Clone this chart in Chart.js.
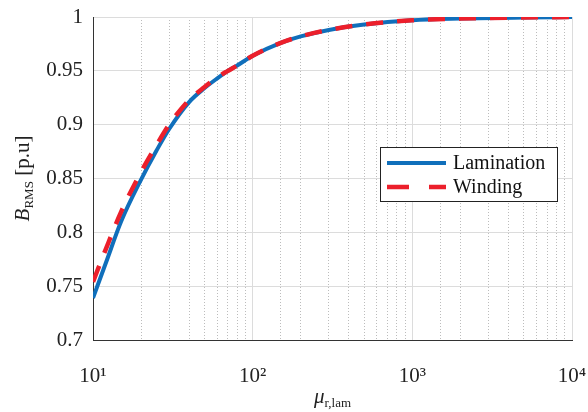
<!DOCTYPE html>
<html>
<head>
<meta charset="utf-8">
<script src="https://cdn.jsdelivr.net/npm/chart.js@4"></script>
<style>
  html, body { margin: 0; padding: 0; background: #fff; }
</style>
</head>
<body>
<canvas id="chart" width="588" height="412"></canvas>
<script>
// relative permeability of lamination (x) vs RMS flux density (p.u.)
const mu = [10, 12, 15, 20, 25, 30, 40, 50, 60, 70, 80, 100, 150, 200, 300, 500, 1000, 2000, 5000, 10000];
const lamination = [0.739, 0.771, 0.810, 0.849, 0.876, 0.896, 0.921, 0.934, 0.943, 0.950, 0.955, 0.964, 0.976, 0.982, 0.988, 0.993, 0.997, 0.9985, 0.9995, 1.0];
const winding = [0.754, 0.784, 0.819, 0.856, 0.881, 0.900, 0.923, 0.935, 0.944, 0.950, 0.955, 0.964, 0.976, 0.982, 0.988, 0.993, 0.997, 0.9985, 0.9995, 1.0];
const xTickLabels = { 10: "10¹", 100: "10²", 1000: "10³", 10000: "10⁴" };
const yTickValues = [0.7, 0.75, 0.8, 0.85, 0.9, 0.95, 1];

const FONT = "'Liberation Serif', 'Times New Roman', serif";

function isDecade(v) {
  const l = Math.log10(v);
  return Math.abs(l - Math.round(l)) < 1e-9;
}

// axis titles with italic symbols and subscripts
const axisTitles = {
  id: "axisTitles",
  afterDraw(chart) {
    const { ctx, chartArea } = chart;

    function drawRich(parts) {
      let total = 0;
      parts.forEach((p) => {
        ctx.font = p.font;
        p.w = ctx.measureText(p.t).width;
        total += p.w;
      });
      let x = -total / 2;
      parts.forEach((p) => {
        ctx.font = p.font;
        ctx.fillText(p.t, x, p.dy || 0);
        x += p.w;
      });
    }

    ctx.save();
    ctx.fillStyle = "#222";
    ctx.textBaseline = "alphabetic";
    ctx.textAlign = "left";

    ctx.save();
    ctx.translate(29, (chartArea.top + chartArea.bottom) / 2);
    ctx.rotate(-Math.PI / 2);
    drawRich([
      { t: "B", font: "italic 21px " + FONT },
      { t: "RMS", font: "13px " + FONT, dy: 4 },
      { t: " [p.u]", font: "21px " + FONT }
    ]);
    ctx.restore();

    ctx.save();
    ctx.translate((chartArea.left + chartArea.right) / 2, 403);
    drawRich([
      { t: "μ", font: "italic 21px " + FONT },
      { t: "r,lam", font: "13px " + FONT, dy: 4 }
    ]);
    ctx.restore();

    ctx.restore();
  }
};

// legend box in the right middle of the plot
const insideLegend = {
  id: "insideLegend",
  afterDraw(chart) {
    const { ctx, chartArea } = chart;
    const x = chartArea.right - 192;
    const y = chartArea.top + 130;
    const w = 177;
    const h = 54;

    ctx.save();
    ctx.fillStyle = "#fff";
    ctx.fillRect(x, y, w, h);
    ctx.strokeStyle = "#222";
    ctx.lineWidth = 1;
    ctx.strokeRect(x + 0.5, y + 0.5, w, h);

    const items = [chart.data.datasets[1], chart.data.datasets[0]];
    items.forEach((ds, i) => {
      const ly = y + 16 + i * 24;
      ctx.beginPath();
      ctx.strokeStyle = ds.borderColor;
      ctx.lineWidth = ds.borderWidth;
      ctx.setLineDash(ds.legendDash || []);
      ctx.moveTo(x + 7, ly);
      ctx.lineTo(x + 66, ly);
      ctx.stroke();
      ctx.setLineDash([]);
      ctx.fillStyle = "#111";
      ctx.font = "20px " + FONT;
      ctx.textBaseline = "alphabetic";
      ctx.fillText(ds.label, x + 73, ly + 6);
    });
    ctx.restore();
  }
};

new Chart(document.getElementById("chart"), {
  type: "line",
  data: {
    datasets: [
      {
        label: "Winding",
        data: mu.map((m, i) => ({ x: m, y: winding[i] })),
        borderColor: "#ec1f2b",
        borderWidth: 4.5,
        borderDash: [17, 14],
        legendDash: [22, 20],
        pointRadius: 0,
        cubicInterpolationMode: "monotone",
        fill: false,
        order: 0
      },
      {
        label: "Lamination",
        data: mu.map((m, i) => ({ x: m, y: lamination[i] })),
        borderColor: "#106fbb",
        borderWidth: 4,
        pointRadius: 0,
        cubicInterpolationMode: "monotone",
        fill: false,
        order: 1
      }
    ]
  },
  options: {
    responsive: false,
    animation: false,
    layout: { padding: { top: 17, right: 16, left: 0, bottom: 0 } },
    plugins: {
      legend: { display: false },
      tooltip: { enabled: false }
    },
    scales: {
      x: {
        type: "logarithmic",
        min: 10,
        max: 10000,
        afterFit: (scale) => {
          scale.height = 72;
          scale.paddingLeft = 0;
          scale.paddingRight = 0;
        },
        ticks: {
          autoSkip: false,
          maxRotation: 0,
          padding: 24,
          color: "#222",
          font: { family: FONT, size: 21 },
          callback: (v) => xTickLabels[v] || ""
        },
        grid: {
          drawTicks: false,
          color: (c) => (c.tick && isDecade(c.tick.value) ? "#dcdcdc" : "#bcbcbc"),
          lineWidth: 1
        },
        border: {
          display: true,
          color: "#333",
          width: 1,
          dash: (c) => (c.tick && !isDecade(c.tick.value) ? [1, 2] : [])
        }
      },
      y: {
        min: 0.7,
        max: 1,
        afterFit: (scale) => {
          scale.width = 93;
          scale.paddingTop = 0;
          scale.paddingBottom = 0;
        },
        afterBuildTicks: (scale) => {
          scale.ticks = yTickValues.map((v) => ({ value: v }));
        },
        ticks: {
          padding: 10,
          color: "#222",
          font: { family: FONT, size: 21 },
          callback: (v) => String(Math.round(v * 100) / 100)
        },
        grid: {
          drawTicks: false,
          color: "#dcdcdc",
          lineWidth: 1
        },
        border: { display: true, color: "#333", width: 1 }
      }
    }
  },
  plugins: [axisTitles, insideLegend]
});
</script>
</body>
</html>
